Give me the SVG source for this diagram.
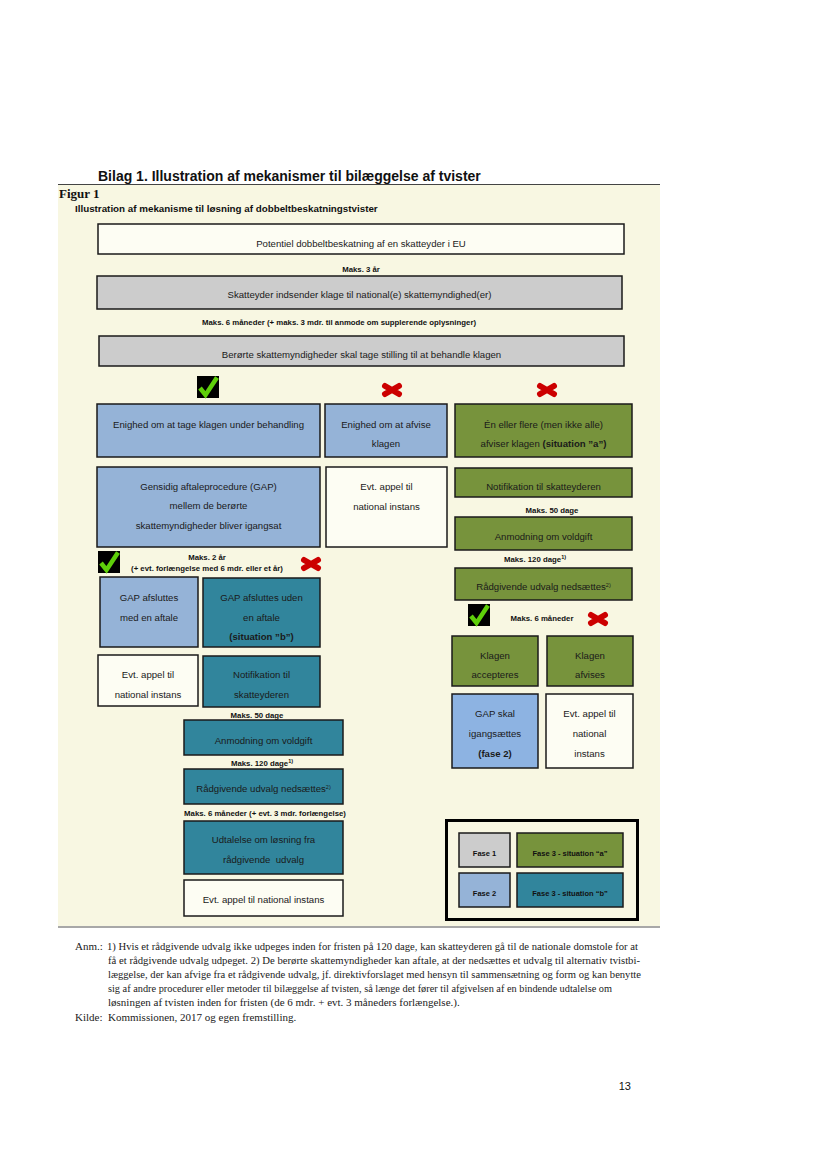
<svg xmlns="http://www.w3.org/2000/svg" xmlns:xlink="http://www.w3.org/1999/xlink" width="827" height="1169" viewBox="0 0 827 1169">
<style>
.box{stroke:#1a1a1a;stroke-width:1.5}
.gray{fill:#cccccc}.blue{fill:#95b3d7}.lblue{fill:#8db3e2}.green{fill:#77933c}.teal{fill:#31859c}.white{fill:#fdfdf3}
.t{font-family:"Liberation Sans",Arial,sans-serif;font-size:9.6px;fill:#1a1a1a;text-anchor:middle}
.m{font-family:"Liberation Sans",Arial,sans-serif;font-size:7.8px;font-weight:bold;fill:#111;text-anchor:middle}
.b{font-weight:bold}
.fn{font-family:"Liberation Serif","Times New Roman",serif;font-size:11px;fill:#222}
.sup{font-size:5.5px}
</style>
<defs>
<g id="check"><rect x="0" y="0" width="22" height="22" fill="#000"/><path d="M3,12 L8.5,19 L20,1.5" fill="none" stroke="#5ecf0a" stroke-width="4.5"/></g>
<g id="cross"><path d="M-7,-4 L7,4 M-7,4 L7,-4" fill="none" stroke="#cc0000" stroke-width="6" stroke-linecap="round"/></g>
</defs>
<rect width="827" height="1169" fill="#ffffff"/>
<text x="98" y="181" font-family="Liberation Sans, Arial, sans-serif" font-size="14" font-weight="bold" fill="#111">Bilag 1. Illustration af mekanismer til bilæggelse af tvister</text>
<rect x="58" y="185" width="602" height="742" fill="#f8f7e2"/>
<line x1="58" y1="184.5" x2="660" y2="184.5" stroke="#444" stroke-width="1"/>
<line x1="58" y1="927" x2="660" y2="927" stroke="#a8a8a8" stroke-width="2"/>
<text x="59" y="198" font-family="Liberation Serif, Times New Roman, serif" font-size="13" font-weight="bold" fill="#111">Figur 1</text>
<text x="75" y="212" font-family="Liberation Sans, Arial, sans-serif" font-size="9.8" font-weight="bold" fill="#111">Illustration af mekanisme til løsning af dobbeltbeskatningstvister</text>

<g id="connectors"></g>

<g id="n_potentiel"><rect class="box white" x="98" y="224" width="526" height="30"/><text class="t" x="361" y="247">Potentiel dobbeltbeskatning af en skatteyder i EU</text></g>
<g id="l_maks3"><text class="m" x="361" y="272">Maks. 3 år</text></g>
<g id="n_indsender"><rect class="box gray" x="97" y="276" width="525" height="33"/><text class="t" x="359.5" y="298">Skatteyder indsender klage til national(e) skattemyndighed(er)</text></g>
<g id="l_maks6"><text class="m" x="339" y="325">Maks. 6 måneder (+ maks. 3 mdr. til anmode om supplerende oplysninger)</text></g>
<g id="n_berorte"><rect class="box gray" x="99" y="336" width="525" height="30"/><text class="t" x="361.5" y="358">Berørte skattemyndigheder skal tage stilling til at behandle klagen</text></g>

<g id="marks">
<use xlink:href="#check" x="197" y="376"/>
<use xlink:href="#cross" x="392" y="390"/>
<use xlink:href="#cross" x="547" y="390"/>
<use xlink:href="#check" x="98" y="551"/>
<use xlink:href="#cross" x="311" y="564"/>
<use xlink:href="#check" x="468" y="604"/>
<use xlink:href="#cross" x="598" y="619"/>
</g>

<g id="n_enighed_tage"><rect class="box blue" x="97" y="404" width="223" height="53"/><text class="t" x="208.5" y="428">Enighed om at tage klagen under behandling</text></g>
<g id="n_enighed_afvise"><rect class="box blue" x="325" y="404" width="122" height="53"/><text class="t" x="386" y="428">Enighed om at afvise</text><text class="t" x="386" y="447">klagen</text></g>
<g id="n_en_eller_flere"><rect class="box green" x="455" y="404" width="177" height="53"/><text class="t" x="543.5" y="428">Én eller flere (men ikke alle)</text><text class="t" x="543.5" y="447">afviser klagen <tspan class="b">(situation ”a”)</tspan></text></g>

<g id="n_gap"><rect class="box blue" x="97" y="467" width="223" height="80"/><text class="t" x="208.5" y="490">Gensidig aftaleprocedure (GAP)</text><text class="t" x="208.5" y="509">mellem de berørte</text><text class="t" x="208.5" y="529">skattemyndigheder bliver igangsat</text></g>
<g id="n_appel_mid"><rect class="box white" x="326" y="467" width="121" height="80"/><text class="t" x="386.5" y="490">Evt. appel til</text><text class="t" x="386.5" y="510">national instans</text></g>
<g id="n_notif_a"><rect class="box green" x="455" y="468" width="177" height="29"/><text class="t" x="543.5" y="490">Notifikation til skatteyderen</text></g>
<g id="l_50a"><text class="m" x="552" y="513">Maks. 50 dage</text></g>
<g id="n_anmod_a"><rect class="box green" x="455" y="517" width="177" height="33"/><text class="t" x="543.5" y="540">Anmodning om voldgift</text></g>
<g id="l_120a"><text class="m" x="535" y="562">Maks. 120 dage<tspan class="sup" dy="-3">1)</tspan></text></g>
<g id="n_raad_a"><rect class="box green" x="455" y="568" width="177" height="32"/><text class="t" x="543.5" y="590">Rådgivende udvalg nedsættes<tspan class="sup" dy="-3.5">2)</tspan></text></g>
<g id="l_6a"><text class="m" x="542" y="621">Maks. 6 måneder</text></g>
<g id="n_accept"><rect class="box green" x="452" y="636" width="86" height="50"/><text class="t" x="495" y="659">Klagen</text><text class="t" x="495" y="678">accepteres</text></g>
<g id="n_afvises"><rect class="box green" x="547" y="636" width="86" height="50"/><text class="t" x="590" y="659">Klagen</text><text class="t" x="590" y="678">afvises</text></g>
<g id="n_gap_skal"><rect class="box lblue" x="452" y="694" width="86" height="74"/><text class="t" x="495" y="717">GAP skal</text><text class="t" x="495" y="737">igangsættes</text><text class="t b" x="495" y="757">(fase 2)</text></g>
<g id="n_appel_right"><rect class="box white" x="546" y="694" width="87" height="74"/><text class="t" x="589.5" y="717">Evt. appel til</text><text class="t" x="589.5" y="737">national</text><text class="t" x="589.5" y="757">instans</text></g>

<g id="l_2aar"><text class="m" x="207" y="560">Maks. 2 år</text><text class="m" x="207" y="571">(+ evt. forlængelse med 6 mdr. eller et år)</text></g>
<g id="n_gap_med"><rect class="box blue" x="100" y="577" width="98" height="70"/><text class="t" x="149" y="601">GAP afsluttes</text><text class="t" x="149" y="621">med en aftale</text></g>
<g id="n_gap_uden"><rect class="box teal" x="203" y="578" width="117" height="69"/><text class="t" x="261.5" y="601">GAP afsluttes uden</text><text class="t" x="261.5" y="621">en aftale</text><text class="t b" x="261.5" y="640">(situation ”b”)</text></g>
<g id="n_appel_left"><rect class="box white" x="98" y="655" width="100" height="51"/><text class="t" x="148" y="678">Evt. appel til</text><text class="t" x="148" y="698">national instans</text></g>
<g id="n_notif_b"><rect class="box teal" x="203" y="656" width="117" height="51"/><text class="t" x="261.5" y="678">Notifikation til</text><text class="t" x="261.5" y="698">skatteyderen</text></g>
<g id="l_50b"><text class="m" x="257" y="718">Maks. 50 dage</text></g>
<g id="n_anmod_b"><rect class="box teal" x="184" y="720" width="159" height="35"/><text class="t" x="263.5" y="744">Anmodning om voldgift</text></g>
<g id="l_120b"><text class="m" x="262" y="766">Maks. 120 dage<tspan class="sup" dy="-3">1)</tspan></text></g>
<g id="n_raad_b"><rect class="box teal" x="184" y="769" width="159" height="35"/><text class="t" x="263.5" y="792">Rådgivende udvalg nedsættes<tspan class="sup" dy="-3.5">2)</tspan></text></g>
<g id="l_6b"><text class="m" x="265" y="816">Maks. 6 måneder (+ evt. 3 mdr. forlængelse)</text></g>
<g id="n_udtalelse"><rect class="box teal" x="184" y="821" width="159" height="53"/><text class="t" x="263.5" y="843">Udtalelse om løsning fra</text><text class="t" x="263.5" y="863" xml:space="preserve">rådgivende  udvalg</text></g>
<g id="n_appel_bottom"><rect class="box white" x="184" y="880" width="159" height="36"/><text class="t" x="263.5" y="903">Evt. appel til national instans</text></g>

<g id="legend">
<rect x="446.5" y="820.5" width="191" height="99" fill="#f8f7e2" stroke="#000" stroke-width="3"/>
<rect class="box gray" x="459" y="833" width="51" height="34"/><text class="m" x="484.5" y="856" style="font-size:7.5px">Fase 1</text>
<rect class="box green" x="517" y="833" width="106" height="34"/><text class="m" x="570" y="856" style="font-size:7.5px">Fase 3 - situation “a”</text>
<rect class="box blue" x="459" y="873" width="51" height="34"/><text class="m" x="484.5" y="896" style="font-size:7.5px">Fase 2</text>
<rect class="box teal" x="517" y="873" width="106" height="34"/><text class="m" x="570" y="896" style="font-size:7.5px">Fase 3 - situation “b”</text>
</g>

<g id="footnote">
<text class="fn" x="75" y="950">Anm.:</text>
<text class="fn" x="107" y="950" textLength="531" lengthAdjust="spacingAndGlyphs">1) Hvis et rådgivende udvalg ikke udpeges inden for fristen på 120 dage, kan skatteyderen gå til de nationale domstole for at</text>
<text class="fn" x="108" y="964" textLength="532" lengthAdjust="spacingAndGlyphs">få et rådgivende udvalg udpeget. 2) De berørte skattemyndigheder kan aftale, at der nedsættes et udvalg til alternativ tvistbi-</text>
<text class="fn" x="108" y="978" textLength="533" lengthAdjust="spacingAndGlyphs">læggelse, der kan afvige fra et rådgivende udvalg, jf. direktivforslaget med hensyn til sammensætning og form og kan benytte</text>
<text class="fn" x="108" y="992" textLength="504" lengthAdjust="spacingAndGlyphs">sig af andre procedurer eller metoder til bilæggelse af tvisten, så længe det fører til afgivelsen af en bindende udtalelse om</text>
<text class="fn" x="108" y="1006">løsningen af tvisten inden for fristen (de 6 mdr. + evt. 3 måneders forlængelse.).</text>
<text class="fn" x="75" y="1021">Kilde:</text>
<text class="fn" x="108" y="1021">Kommissionen, 2017 og egen fremstilling.</text>
</g>
<text x="631" y="1090" font-family="Liberation Sans, Arial, sans-serif" font-size="11" fill="#111" text-anchor="end">13</text>
</svg>
